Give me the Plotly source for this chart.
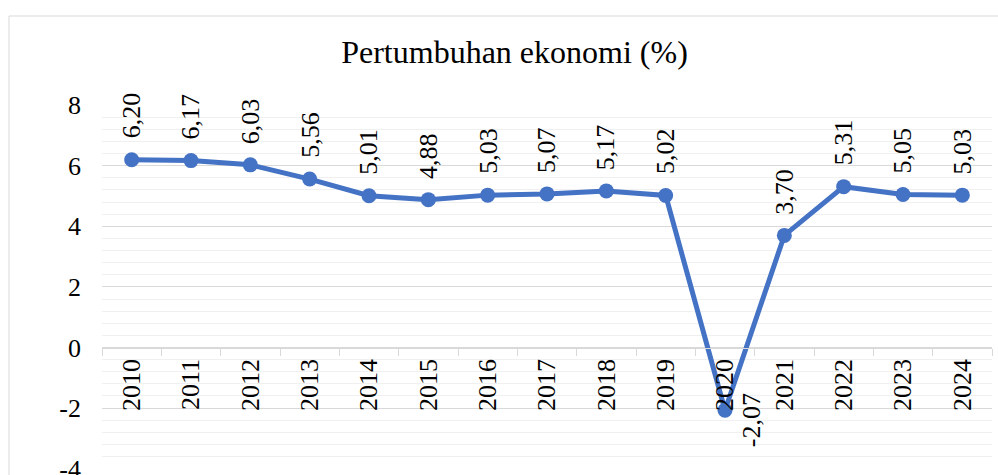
import plotly.graph_objects as go

years = ["2010", "2011", "2012", "2013", "2014", "2015", "2016", "2017",
         "2018", "2019", "2020", "2021", "2022", "2023", "2024"]
growth = [6.20, 6.17, 6.03, 5.56, 5.01, 4.88, 5.03, 5.07,
          5.17, 5.02, -2.07, 3.70, 5.31, 5.05, 5.03]
y_ticks = [-4, -2, 0, 2, 4, 6, 8]
y_ticktext = ["-4", "-2", "0", "2", "4", "6", "8"]

FONT = "Liberation Serif"
BLUE = "#4472C4"

fig = go.Figure()
fig.add_trace(go.Scatter(
    x=years, y=growth, mode="lines+markers",
    line=dict(color=BLUE, width=5),
    marker=dict(color=BLUE, size=15),
    showlegend=False, hoverinfo="skip",
))

annotations = []
for i, v in enumerate(growth):
    txt = f"{v:.2f}".replace(".", ",")
    if v < 0:
        annotations.append(dict(x=i, y=v, xref="x", yref="y", text=txt,
                                textangle=-90, showarrow=False,
                                xanchor="center", yanchor="middle",
                                xshift=26, yshift=-10,
                                font=dict(family=FONT, size=26, color="#000")))
    else:
        annotations.append(dict(x=i, y=v, xref="x", yref="y", text=txt,
                                textangle=-90, showarrow=False,
                                xanchor="center", yanchor="bottom",
                                yshift=19,
                                font=dict(family=FONT, size=26, color="#000")))

fig.update_layout(
    width=998, height=475,
    margin=dict(l=102, r=6, t=105, b=6, autoexpand=False),
    paper_bgcolor="white", plot_bgcolor="white",
    font=dict(family=FONT, color="#000"),
    title=dict(text="Pertumbuhan ekonomi (%)", x=514.5 / 998, xanchor="center",
               y=1 - 52 / 475, yanchor="middle",
               font=dict(family=FONT, size=32, color="#000")),
    xaxis=dict(type="category", range=[-0.5, 14.5],
               anchor="free", position=1 / 3, automargin=False,
               showline=True, linecolor="#d9d9d9", linewidth=1,
               showgrid=False, ticks="outside", tickson="boundaries",
               ticklen=7, tickcolor="#d9d9d9",
               tickangle=-90,
               tickfont=dict(family=FONT, size=26, color="#000")),
    yaxis=dict(range=[-4.01, 8.005], tickvals=y_ticks, ticktext=y_ticktext,
               automargin=False, ticklabeloverflow="allow",
               showgrid=True, gridcolor="#d9d9d9", gridwidth=1,
               zeroline=False, showline=False, ticks="",
               ticklabelstandoff=20,
               tickfont=dict(family=FONT, size=26, color="#000"),
               minor=dict(dtick=0.4, tick0=-4, showgrid=True,
                          gridcolor="#f0f0f0", gridwidth=1)),
    annotations=annotations,
    shapes=[dict(type="rect", xref="paper", yref="paper",
                 x0=(9 - 102) / 890, x1=1.1, y0=-0.2, y1=(469 - 16) / 364,
                 line=dict(color="#d9d9d9", width=1), layer="below")],
)

fig.write_html(
    "out.html",
    config={"displayModeBar": False},
    post_script="document.body.style.margin='0';document.body.style.overflow='hidden';",
)
